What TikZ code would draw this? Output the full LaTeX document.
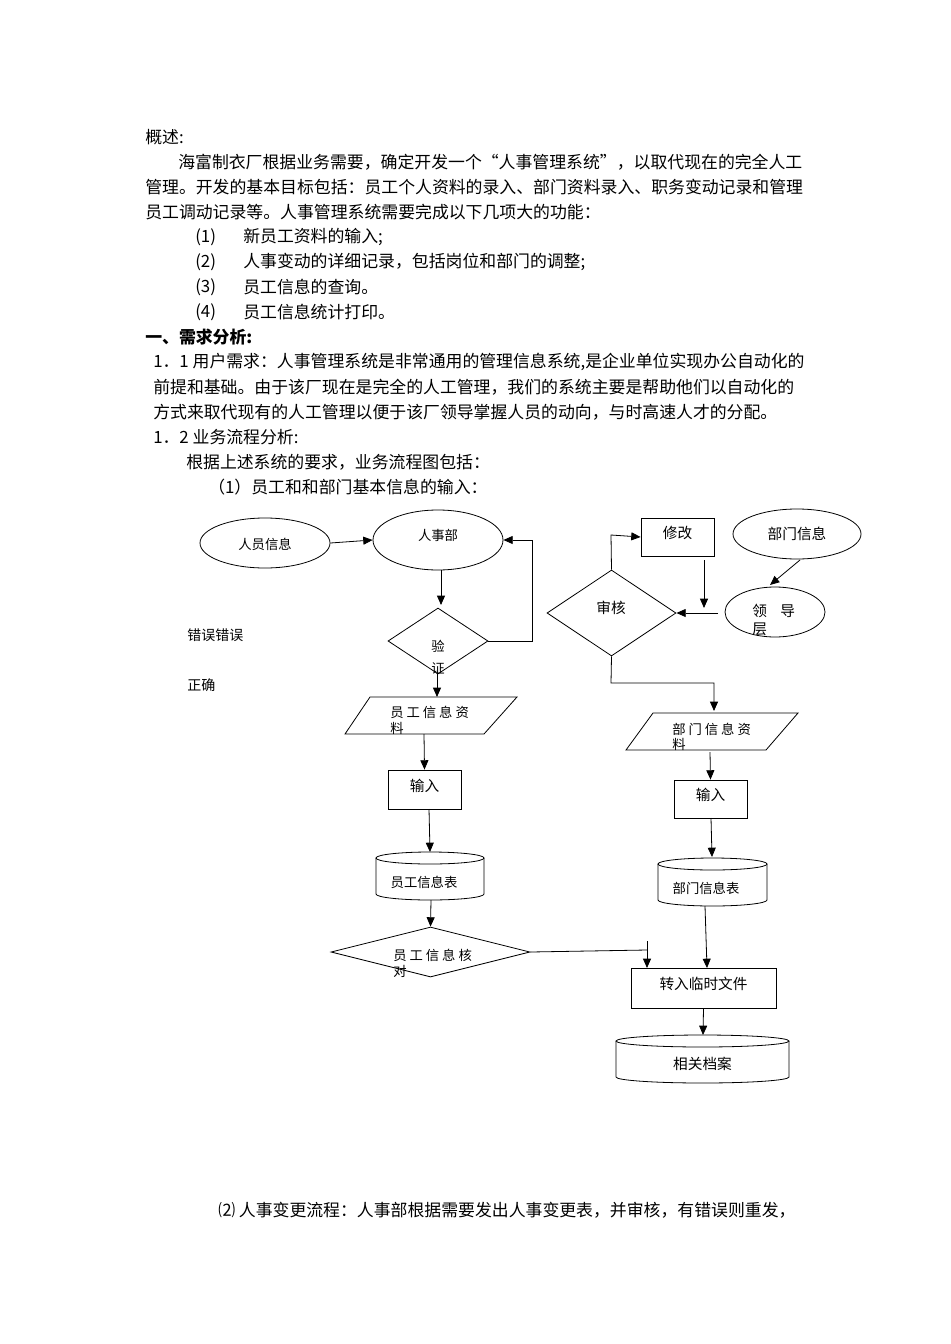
\documentclass[tikz,border=0pt]{standalone}
\usepackage{fontspec}
\setmainfont{Noto Sans CJK SC}
\usetikzlibrary{shapes.geometric,arrows.meta}
\begin{document}
\begin{tikzpicture}[x=0.75pt,y=-0.75pt,
  txt/.style={anchor=west,inner sep=0pt,font=\fontsize{12.65}{14}\selectfont},
  lab/.style={inner sep=0pt,font=\fontsize{11}{13}\selectfont},
  sml/.style={inner sep=0pt,font=\fontsize{10}{12}\selectfont},
  sz/.style 2 args={minimum width={#1*0.75pt},minimum height={#2*0.75pt}},
  box/.style={draw,line width=0.6pt,rectangle,inner sep=0pt},
  ell/.style={draw,line width=0.6pt,ellipse,inner sep=0pt},
  dia/.style={draw,line width=0.6pt,diamond,inner sep=0pt},
  arr/.style={line width=0.6pt,-{Triangle[length=7pt,width=6pt]}},
  ln/.style={line width=0.6pt}]
\useasboundingbox (0,0) rectangle (950,1344);
% text
\node[txt] (t1) at (145,137) {概述:};
\node[txt] (t2) at (178,162) {海富制衣厂根据业务需要，确定开发一个“人事管理系统”，以取代现在的完全人工};
\node[txt] (t3) at (145,187) {管理。开发的基本目标包括：员工个人资料的录入、部门资料录入、职务变动记录和管理};
\node[txt] (t4) at (145,212) {员工调动记录等。人事管理系统需要完成以下几项大的功能：};
\node[txt] (a1) at (195,237) {(1)}; \node[txt] (b1) at (243,237) {新员工资料的输入;};
\node[txt] (a2) at (195,262) {(2)}; \node[txt] (b2) at (243,262) {人事变动的详细记录，包括岗位和部门的调整;};
\node[txt] (a3) at (195,287) {(3)}; \node[txt] (b3) at (243,287) {员工信息的查询。};
\node[txt] (a4) at (195,312) {(4)}; \node[txt] (b4) at (243,312) {员工信息统计打印。};
\node[txt,font=\fontsize{12.65}{14}\selectfont\bfseries] (t5) at (145,337) {一、需求分析:};
\node[txt] (t6) at (153,362) {1．1 用户需求：人事管理系统是非常通用的管理信息系统,是企业单位实现办公自动化的};
\node[txt] (t7) at (153,387) {前提和基础。由于该厂现在是完全的人工管理，我们的系统主要是帮助他们以自动化的};
\node[txt] (t8) at (153,412) {方式来取代现有的人工管理以便于该厂领导掌握人员的动向，与时高速人才的分配。};
\node[txt] (t9) at (153,437) {1．2 业务流程分析:};
\node[txt] (t10) at (186,462) {根据上述系统的要求，业务流程图包括：};
\node[txt] (t11) at (208,487) {（1）员工和和部门基本信息的输入：};
\node[txt] (t12) at (218,1210) {⑵ 人事变更流程：人事部根据需要发出人事变更表，并审核，有错误则重发，};
\node[txt,font=\fontsize{10.5}{12}\selectfont] (err) at (187,635) {错误错误};
\node[txt,font=\fontsize{10.5}{12}\selectfont] (ok) at (187,685) {正确};
% left column
\node[ell,sz={130}{50}] (ryxx) at (265,543) {};
\node[sml] at (265,544) {人员信息};
\node[ell,sz={130}{60}] (rsb) at (438,540) {};
\node[sml] at (438,535) {人事部};
\node[dia,sz={100}{66}] (yz) at (438,641) {};
\node[sml] at (438,646) {验};
\node[sml] at (438,668) {证};
\draw[ln] (345,734) -- (370,697) -- (517,697) -- (484,734) -- cycle;
\coordinate (pa) at (437,697); \coordinate (pab) at (424,734);
\node[sml,anchor=west] at (390,712) {员 工 信 息 资};
\node[sml,anchor=west] at (390,728) {料};
\node[box,sz={73}{39}] (sr1) at (424.5,789.5) {};
\node[lab] at (424.5,786) {输入};
% cylinder 员工信息表
\draw[ln] (376,858) -- (376,894) arc[start angle=180,end angle=0,x radius=54,y radius=6] -- (484,858);
\draw[ln] (430,858) ellipse[x radius=54,y radius=6];
\coordinate (ygbn) at (430,852); \coordinate (ygbs) at (431,900);
\node[sml] at (424,882) {员工信息表};
\node[dia,sz={199}{50}] (hd) at (430.5,952) {};
\node[sml,anchor=west] at (393,955) {员 工 信 息 核};
\node[sml,anchor=west] at (393,971) {对};
% right column
\node[box,sz={73}{38}] (xg) at (677.5,537) {};
\node[lab] at (677.5,533) {修改};
\node[ell,sz={128}{50}] (bmxx) at (797,534) {};
\node[lab] at (797,534) {部门信息};
\node[ell,sz={100}{50}] (ldc) at (775,612) {};
\node[lab,anchor=west] at (752,611) {领\hspace{10pt}导};
\node[lab,anchor=west] at (752,629) {层};
\node[dia,sz={129}{86}] (sh) at (611.5,613) {};
\node[lab] at (611,608) {审核};
\draw[ln] (626,750) -- (653,713) -- (798,713) -- (766,750) -- cycle;
\coordinate (pb) at (714,711); \coordinate (pbb) at (710,752);
\node[sml,anchor=west] at (672,729) {部 门 信 息 资};
\node[sml,anchor=west] at (672,744) {料};
\node[box,sz={73}{38}] (sr2) at (710.5,799) {};
\node[lab] at (710.5,795) {输入};
% cylinder 部门信息表
\draw[ln] (658,864) -- (658,900) arc[start angle=180,end angle=0,x radius=54.5,y radius=6] -- (767,864);
\draw[ln] (712.5,864) ellipse[x radius=54.5,y radius=6];
\coordinate (bmbs) at (705,906);
\node[sml] at (706,888) {部门信息表};
\node[box,sz={145}{40}] (zr) at (703.5,988) {};
\node[lab] at (703.5,984) {转入临时文件};
% cylinder 相关档案
\draw[ln] (616,1041) -- (616,1077) arc[start angle=180,end angle=0,x radius=86.5,y radius=6] -- (789,1041);
\draw[ln] (702.5,1041) ellipse[x radius=86.5,y radius=6];
\coordinate (xgdan) at (703,1035);
\node[lab] at (702.5,1064) {相关档案};
% connectors
\draw[arr] (ryxx.east) -- (rsb.west);
\draw[arr] (441,570) -- (441,605);
\draw[arr] (yz.east) -- (532,641) -- (532,540) -- (rsb.east);
\draw[arr] (437,674) -- (pa);
\draw[arr] (pab) -- (sr1.north);
\draw[arr] (429,809) -- (ygbn);
\draw[arr] (ygbs) -- (hd.north);
\draw[ln] (hd.east) -- (647,950);
\draw[arr] (647,941) -- (647,968);
\draw[arr] (800,560) -- (770,585);
\draw[arr] (718,613) -- (sh.east);
\draw[arr] (704,560) -- (704,608);
\draw[arr] (sh.north) -- (611,535) -- (xg.west);
\draw[arr] (sh.south) -- (611,683) -- (714,683) -- (pb);
\draw[arr] (pbb) -- (sr2.north);
\draw[arr] (711,818) -- (712,857);
\draw[arr] (bmbs) -- (707,968);
\draw[arr] (zr.south) -- (xgdan);
\end{tikzpicture}
\end{document}
